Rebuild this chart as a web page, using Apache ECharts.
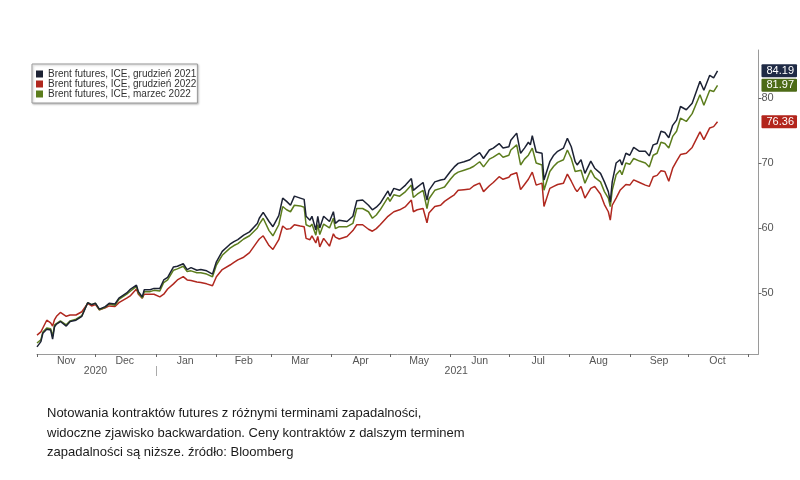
<!DOCTYPE html>
<html>
<head>
<meta charset="utf-8">
<script src="https://cdn.jsdelivr.net/npm/echarts@6/dist/echarts.min.js"></script>
<style>
html,body{margin:0;padding:0;background:#fff;}
#chart{width:800px;height:480px;}
</style>
</head>
<body>
<div id="chart"></div>
<script>
// ---- data ----
const dates = [
'2020-11-01','2020-11-03','2020-11-04','2020-11-06','2020-11-08','2020-11-09','2020-11-10','2020-11-11','2020-11-13','2020-11-16',
'2020-11-18','2020-11-21','2020-11-24','2020-11-27','2020-11-29','2020-12-01','2020-12-03','2020-12-06','2020-12-08','2020-12-11',
'2020-12-13','2020-12-17','2020-12-19','2020-12-22','2020-12-23','2020-12-25','2020-12-26','2020-12-29','2020-12-31','2021-01-03',
'2021-01-05','2021-01-07','2021-01-10','2021-01-12','2021-01-15','2021-01-17','2021-01-19','2021-01-22','2021-01-24','2021-01-27',
'2021-01-30','2021-02-01','2021-02-04','2021-02-08','2021-02-10','2021-02-12','2021-02-15','2021-02-18','2021-02-22','2021-02-23',
'2021-02-25','2021-02-26','2021-02-28','2021-03-02','2021-03-05','2021-03-07','2021-03-09','2021-03-11','2021-03-13','2021-03-16',
'2021-03-18','2021-03-19','2021-03-21','2021-03-22','2021-03-24','2021-03-25','2021-03-26','2021-03-28','2021-03-31','2021-04-02',
'2021-04-03','2021-04-05','2021-04-09','2021-04-12','2021-04-14','2021-04-17','2021-04-20','2021-04-22','2021-04-24','2021-04-26',
'2021-04-30','2021-05-01','2021-05-03','2021-05-06','2021-05-09','2021-05-12','2021-05-13','2021-05-15','2021-05-18','2021-05-20',
'2021-05-21','2021-05-24','2021-05-27','2021-05-29','2021-06-01','2021-06-03','2021-06-05','2021-06-08','2021-06-11','2021-06-13',
'2021-06-16','2021-06-18','2021-06-21','2021-06-23','2021-06-26','2021-06-28','2021-07-01','2021-07-02','2021-07-05','2021-07-07',
'2021-07-09','2021-07-11','2021-07-12','2021-07-13','2021-07-15','2021-07-18','2021-07-19','2021-07-20','2021-07-22','2021-07-24',
'2021-07-26','2021-07-29','2021-07-31','2021-08-02','2021-08-04','2021-08-05','2021-08-07','2021-08-09','2021-08-12','2021-08-14',
'2021-08-17','2021-08-19','2021-08-21','2021-08-22','2021-08-23','2021-08-25','2021-08-27','2021-08-28','2021-08-30','2021-09-01',
'2021-09-03','2021-09-06','2021-09-07','2021-09-09','2021-09-11','2021-09-13','2021-09-15','2021-09-17','2021-09-19','2021-09-21',
'2021-09-23','2021-09-25','2021-09-27','2021-09-30','2021-10-03','2021-10-07','2021-10-09','2021-10-12','2021-10-14','2021-10-16'
];
const brentDec2021 = [
41.7,42.5,43.8,44.4,44.3,42.9,44.8,45.2,45.6,44.9,
45.6,45.8,46.4,48.5,48.2,48.4,47.5,47.9,48.4,48.3,
49.2,50.0,50.6,51.2,50.2,49.4,50.5,50.5,50.7,50.7,
52.0,52.4,54.0,54.1,54.5,53.6,53.9,53.5,53.6,53.4,
52.9,54.8,56.4,57.5,57.9,58.2,58.9,59.4,60.7,61.5,
62.4,62.4,61.0,60.2,61.9,64.6,64.1,63.5,64.9,64.6,
64.4,61.8,61.2,61.8,59.7,61.8,60.0,61.8,61.0,62.5,
60.7,61.2,61.0,61.8,64.2,64.3,63.5,62.8,63.2,63.8,
65.7,64.9,66.1,65.8,66.6,67.6,65.8,66.3,67.0,64.3,
65.8,67.1,67.4,67.5,68.7,69.4,69.95,70.2,70.5,71.0,
71.6,70.7,72.0,72.3,73.0,72.3,72.5,73.5,74.6,71.5,
72.3,73.2,72.8,74.2,71.7,71.5,67.4,67.1,70.2,71.2,
71.8,72.3,73.8,72.5,70.2,69.7,70.5,68.4,70.3,69.2,
68.4,67.1,65.6,64.0,67.1,70.0,70.5,69.7,71.5,71.2,
72.4,71.8,71.5,71.8,71.1,72.8,73.0,74.9,74.7,73.9,
75.8,76.6,78.7,78.2,79.2,82.6,81.2,83.5,83.1,84.19
];
const brentDec2022 = [
43.5,44.0,44.6,45.8,45.4,44.9,45.9,46.4,47.0,46.4,
46.6,46.6,47.1,48.4,48.0,48.2,47.4,47.7,48.0,47.9,
48.5,49.2,49.6,50.6,49.8,49.2,49.8,49.8,49.8,49.4,
49.8,50.6,51.4,52.0,52.5,52.0,51.9,51.7,51.6,51.4,
51.1,52.5,53.6,54.3,54.7,55.1,55.5,56.2,57.9,58.3,
58.8,58.7,57.3,56.7,58.2,60.3,59.8,59.9,60.5,60.3,
60.2,58.4,58.2,58.8,57.7,58.7,57.1,58.4,57.2,59.1,
58.6,58.3,58.7,59.6,60.5,60.5,59.8,59.5,59.9,60.5,
61.8,61.5,62.5,62.8,63.3,64.3,62.5,62.8,63.0,60.8,
62.3,63.3,63.5,64.1,64.7,65.1,65.8,65.9,66.0,66.5,
66.9,65.6,66.5,67.0,67.9,67.5,67.8,68.2,68.5,65.9,
66.7,67.5,67.8,68.6,66.6,66.9,63.3,63.3,66.1,66.4,
66.7,66.9,68.3,67.2,66.0,65.6,66.4,64.6,66.1,66.4,
65.2,63.6,62.5,61.2,63.5,64.6,65.8,65.5,66.7,66.6,
67.4,67.0,66.9,66.6,66.4,67.9,68.1,68.8,68.7,67.2,
69.2,70.3,71.3,71.5,72.4,74.8,73.6,75.4,75.6,76.36
];
const brentMar2022 = [
42.3,42.8,44.0,44.6,44.5,43.3,45.1,45.4,45.7,45.1,
45.7,45.95,46.5,48.5,48.2,48.4,47.4,47.8,48.3,48.1,
49.0,49.8,50.3,51.0,50.0,49.2,50.2,50.2,50.4,50.3,
51.6,52.0,53.5,53.7,54.1,53.3,53.4,53.1,53.1,52.9,
52.5,54.3,55.8,56.9,57.3,57.6,58.3,58.8,60.0,60.6,
61.5,61.3,59.6,58.8,60.5,63.3,62.8,62.5,63.5,63.4,
63.2,60.5,60.2,60.6,58.9,60.5,59.0,60.6,60.0,61.5,
59.9,60.2,60.2,60.7,63.0,63.0,62.5,61.5,62.0,62.8,
64.7,64.1,65.1,64.9,65.6,66.6,64.7,65.2,65.8,63.0,
64.5,65.8,66.1,66.3,67.5,68.2,68.6,68.9,69.2,69.5,
70.2,69.4,70.6,70.9,71.5,70.9,71.2,72.0,72.8,69.7,
70.6,71.2,71.3,72.3,70.0,69.7,65.8,65.9,68.7,69.5,
70.1,70.5,72.0,70.7,68.7,68.5,68.9,66.9,68.9,67.8,
67.1,65.6,64.6,63.3,65.8,68.2,68.9,68.2,70.0,69.8,
70.7,70.3,70.1,70.0,69.4,71.2,71.5,73.2,73.0,72.3,
74.1,74.9,76.9,76.4,77.6,80.5,78.9,81.2,81.0,81.97
];
const seriesNames = ['Brent futures, ICE, grudzień 2021','Brent futures, ICE, grudzień 2022','Brent futures, ICE, marzec 2022'];
const yTicks = [50, 60, 70, 80];
const monthStarts = ['2020-11-01','2020-12-01','2021-01-01','2021-02-01','2021-03-01','2021-04-01','2021-05-01','2021-06-01','2021-07-01','2021-08-01','2021-09-01','2021-10-01','2021-11-01'];
const monthLabelDates = ['2020-11-16','2020-12-16','2021-01-16','2021-02-15','2021-03-16','2021-04-16','2021-05-16','2021-06-16','2021-07-16','2021-08-16','2021-09-16','2021-10-16'];
const monthNames = ['Nov','Dec','Jan','Feb','Mar','Apr','May','Jun','Jul','Aug','Sep','Oct'];
const yearLabelDates = ['2020-12-01','2021-06-04'];
const yearNames = ['2020','2021'];
const yearSeparator = ['2021-01-01'];
const axisStart = '2020-11-01';
const axisEnd = '2021-11-06';
const caption = 'Notowania kontraktów futures z różnymi terminami zapadalności,\nwidoczne zjawisko backwardation. Ceny kontraktów z dalszym terminem\nzapadalności są niższe. źródło: Bloomberg';

// ---- helpers ----
function t(s){ const p = s.split('-').map(Number); return Date.UTC(p[0], p[1]-1, p[2]); }
const colors = ['#1c2234', '#b0281f', '#5c7d1d'];
const tagColors = ['#1f2a45', '#b3251c', '#4d6b17'];
const valuesList = [brentDec2021, brentDec2022, brentMar2022];
const FONT = 'Liberation Sans';
const yMin = 40.6, yMax = 87.4;

const monthLabelTimes = monthLabelDates.map(t);
const yearLabelTimes = yearLabelDates.map(t);

function nearestIdx(arr, v){ let bi=0, bd=Infinity; arr.forEach((a,i)=>{const d=Math.abs(a-v); if(d<bd){bd=d;bi=i;}}); return bi; }

const yAxes = [{
  type:'value', position:'right', min:yMin, max:yMax,
  axisLine:{show:true, lineStyle:{color:'#9a9a9a', width:1}},
  axisTick:{show:true, customValues:yTicks, length:3, lineStyle:{color:'#666'}},
  axisLabel:{customValues:yTicks, margin:3, fontSize:11, color:'#555', fontFamily:FONT},
  splitLine:{show:false}
}];
valuesList.forEach((vals, i) => {
  const last = vals[vals.length-1];
  yAxes.push({
    type:'value', position:'right', min:yMin, max:yMax,
    axisLine:{show:false}, axisTick:{show:false}, splitLine:{show:false},
    axisLabel:{customValues:[last], margin:3, fontSize:11, color:'#fff', fontFamily:FONT,
      backgroundColor:tagColors[i], padding:[1,3,1,5], borderRadius:1,
      formatter: () => last.toFixed(2)}
  });
});

const option = {
  animation:false,
  backgroundColor:'#fff',
  title:{
    text: caption, left:42, top:399,
    textStyle:{fontSize:13, lineHeight:19.5, fontWeight:'normal', color:'#1a1a1a', fontFamily:FONT}
  },
  legend:{
    data: seriesNames, orient:'vertical', left:32, top:64,
    padding:[5,1,4,4], itemGap:0, itemWidth:7, itemHeight:7, icon:'rect',
    backgroundColor:'#fff', borderColor:'#9a9a9a', borderWidth:1, borderRadius:0,
    shadowColor:'rgba(0,0,0,0.25)', shadowBlur:2, shadowOffsetX:1, shadowOffsetY:1,
    textStyle:{fontSize:10, lineHeight:10, color:'#333', fontFamily:FONT}
  },
  grid:{left:37, right:41, top:50, bottom:126, containLabel:false},
  xAxis:[{
    type:'value', min:t(axisStart), max:t(axisEnd), position:'bottom',
    axisLine:{show:true, lineStyle:{color:'#9a9a9a', width:1}},
    axisTick:{show:true, customValues:monthStarts.map(t), length:3, lineStyle:{color:'#666'}},
    axisLabel:{customValues:monthLabelTimes, margin:2, fontSize:10.5, color:'#555', fontFamily:FONT,
      formatter: v => monthNames[nearestIdx(monthLabelTimes, v)]},
    splitLine:{show:false}
  },{
    type:'value', min:t(axisStart), max:t(axisEnd), position:'bottom', offset:12,
    axisLine:{show:false},
    axisTick:{show:true, customValues:yearSeparator.map(t), length:10, lineStyle:{color:'#aaa'}},
    axisLabel:{customValues:yearLabelTimes, margin:0, fontSize:10.5, color:'#555', fontFamily:FONT,
      formatter: v => yearNames[nearestIdx(yearLabelTimes, v)]},
    splitLine:{show:false}
  }],
  yAxis: yAxes,
  series: valuesList.map((vals, i) => ({
    name: seriesNames[i], type:'line', xAxisIndex:0, yAxisIndex:0,
    data: dates.map((d, k) => [t(d), vals[k]]),
    showSymbol:false, symbol:'none',
    lineStyle:{color:colors[i], width:1.5},
    itemStyle:{color:colors[i]},
    z: i === 0 ? 4 : (i === 2 ? 3 : 2)
  }))
};

const chart = echarts.init(document.getElementById('chart'), null, {renderer:'canvas'});
chart.setOption(option);
</script>
</body>
</html>
